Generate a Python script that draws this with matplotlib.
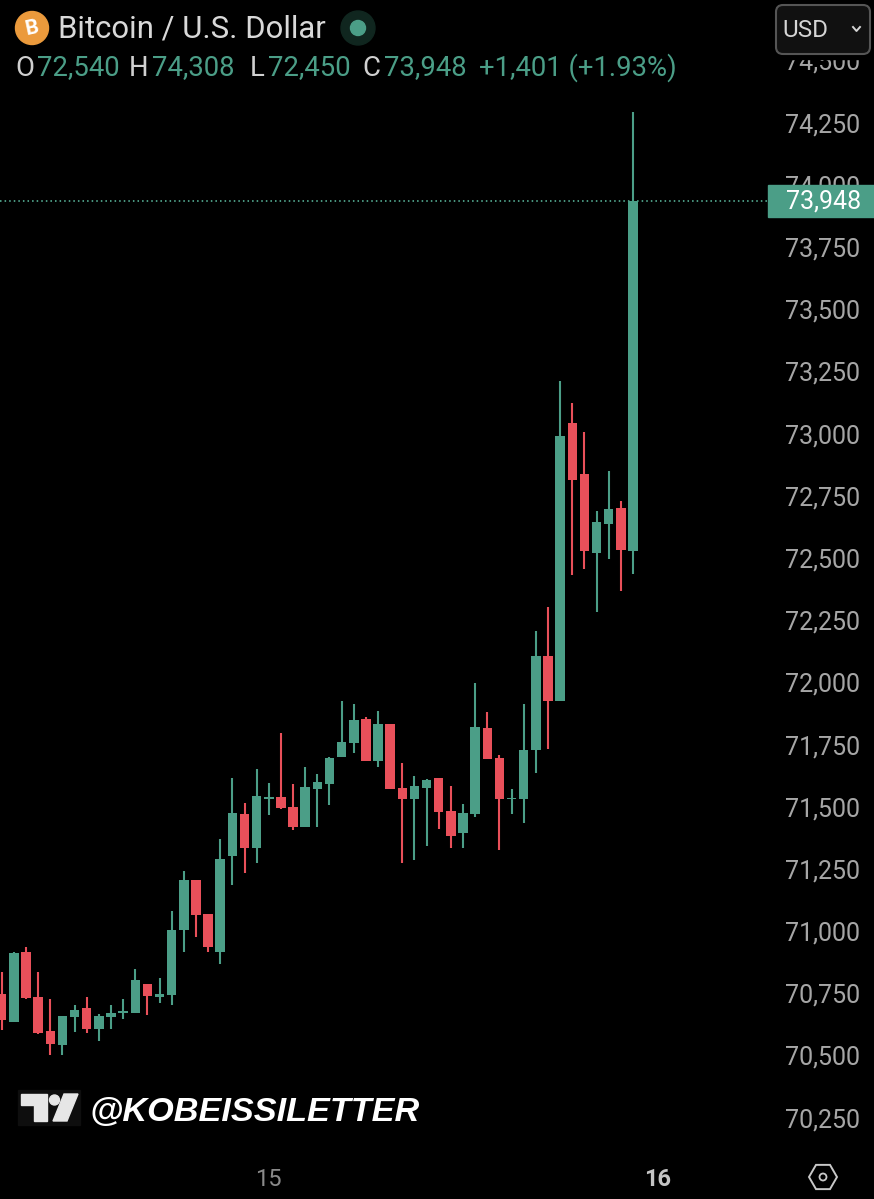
import matplotlib
matplotlib.use("Agg")
import matplotlib.pyplot as plt
from matplotlib.patches import Circle, FancyBboxPatch, Polygon, Rectangle
import numpy as np

# OHLC candles
opens = [70761, 70648, 70929, 70749, 70612, 70556, 70668, 70704, 70620, 70668, 70684, 70684, 70801, 70749,
         70757, 71018, 71219, 71082, 70929, 71315, 71484, 71348, 71545, 71553, 71512, 71432, 71585, 71605,
         71713, 71770, 71866, 71697, 71846, 71589, 71545, 71589, 71629, 71496, 71408, 71484, 71830, 71709,
         71545, 71545, 71742, 72119, 71938, 73056, 72851, 72533, 72650, 72714, 72540]
highs = [70849, 70929, 70950, 70849, 70741, 70672, 70716, 70749, 70680, 70716, 70741, 70861, 70801, 70825,
         71094, 71255, 71219, 71082, 71384, 71629, 71528, 71665, 71609, 71810, 71605, 71673, 71645, 71713,
         71938, 71926, 71874, 71898, 71846, 71689, 71637, 71625, 71629, 71597, 71524, 72011, 71894, 71721,
         71585, 71926, 72220, 72316, 73225, 73136, 73020, 72702, 72863, 72742, 74308]
lows = [70616, 70648, 70741, 70600, 70515, 70515, 70608, 70604, 70572, 70620, 70660, 70684, 70676, 70724,
        70716, 70929, 70990, 70929, 70881, 71199, 71247, 71287, 71480, 71504, 71420, 71432, 71432, 71520,
        71713, 71729, 71697, 71673, 71585, 71287, 71299, 71356, 71424, 71348, 71348, 71472, 71705, 71340,
        71484, 71448, 71649, 71746, 71938, 72445, 72469, 72296, 72509, 72381, 72450]
closes = [70656, 70925, 70745, 70604, 70560, 70672, 70696, 70620, 70672, 70684, 70692, 70817, 70753, 70761,
          71018, 71219, 71078, 70950, 71303, 71488, 71348, 71557, 71553, 71508, 71432, 71593, 71613, 71709,
          71774, 71862, 71697, 71846, 71585, 71545, 71597, 71621, 71492, 71396, 71488, 71834, 71705, 71545,
          71549, 71742, 72119, 71938, 73004, 72827, 72541, 72658, 72710, 72545, 73948]

price_ticks = [74500, 74250, 74000, 73750, 73500, 73250, 73000, 72750, 72500, 72250, 72000, 71750, 71500,
               71250, 71000, 70750, 70500, 70250]
date_pos = [22, 54]
date_labels = ["15", "16"]
ohlc_letters = ["O", "H", "L", "C"]
ohlc_values = ["72,540", "74,308", "72,450", "73,948"]
last_price = 73948

GREEN = "#4b9e87"
RED = "#e9505a"
FONT = "Roboto"

fig = plt.figure(figsize=(8.74, 11.99), dpi=100, facecolor="black")
ax = fig.add_axes([0, 0, 1, 1], facecolor="black")
ax.set_xlim(-0.14, 71.85)
ax.set_ylim(69936.5, 74756.5)
ax.axis("off")

x = np.arange(len(opens))
o, h, l, c = map(np.array, (opens, highs, lows, closes))
colors = [GREEN if c[i] >= o[i] else RED for i in x]

ax.vlines(x, l, h, colors=colors, linewidth=1.5, zorder=2)
ax.bar(x, np.abs(c - o), bottom=np.minimum(o, c), width=0.78, color=colors, linewidth=0, zorder=3)

# last price line
ax.axhline(last_price, xmax=768 / 874, color="#5fc0a4", linewidth=1.1, linestyle=(0, (1, 2)), zorder=1)

# price scale, labels sit a bit above the real level
for p in price_ticks:
    ax.annotate(f"{p:,}", (823 / 874, p), xycoords=ax.get_yaxis_transform(), xytext=(0, 0.6),
                textcoords="offset points", ha="center", va="center", fontsize=18, color="#a6a6a6",
                family=FONT, zorder=1)

# date labels
for pos, lab in zip(date_pos, date_labels):
    bold = lab == "16"
    ax.text(pos, 1 - 1179 / 1199, lab, transform=ax.get_xaxis_transform(), ha="center", va="center",
            fontsize=17, family=FONT, color="#c4c4c4" if bold else "#8a8a8a",
            fontweight="bold" if bold else "normal")

# overlay in pixel coordinates for the header and watermark
ov = fig.add_axes([0, 0, 1, 1], facecolor="none")
ov.set_xlim(0, 874)
ov.set_ylim(1199, 0)
ov.axis("off")

ov.add_patch(Rectangle((0, 0), 874, 59, color="black", zorder=1))
ov.add_patch(Rectangle((768, 185), 106, 32, color=GREEN, zorder=1))
ov.text(824, 202, f"{last_price:,}", color="white", fontsize=18, family=FONT, ha="center", va="center", zorder=2)

# coin icon and title
ov.add_patch(Circle((32, 28), 16.5, color="#eb9a3c", zorder=2))
ov.text(32, 28, "B", color="white", fontsize=15, fontweight="bold", family=FONT, ha="center", va="center",
        rotation=12, zorder=3)
ov.text(58, 29, "Bitcoin / U.S. Dollar", color="#d9d9d9", fontsize=22.4, family=FONT,
        ha="left", va="center", zorder=2)
ov.add_patch(Circle((358, 28), 17, color="#10261f", zorder=2))
ov.add_patch(Circle((358, 28), 7.5, color=GREEN, zorder=3))

# OHLC row
letter_x = [15, 129, 250, 362]
value_x = [37, 152, 268, 384]
for lx, vx, let, val in zip(letter_x, value_x, ohlc_letters, ohlc_values):
    ov.text(lx, 68, let, color="#d0d0d0", fontsize=19.8, family=FONT, ha="left", va="center", zorder=2)
    ov.text(vx, 68, val, color=GREEN, fontsize=19.8, family=FONT, ha="left", va="center", zorder=2)
ov.text(479, 68, "+1,401 (+1.93%)", color=GREEN, fontsize=19.8, family=FONT, ha="left", va="center", zorder=2)

# currency button
ov.add_patch(FancyBboxPatch((779, 8), 88, 43, boxstyle="round,pad=3,rounding_size=7", facecolor="#111111",
                            edgecolor="#555555", linewidth=1.5, zorder=2))
ov.text(782, 30.5, "USD", color="#d5d5d5", fontsize=17.5, family=FONT, ha="left", va="center", zorder=3)
ov.plot([853, 856.5, 860], [27, 31, 27], color="#d5d5d5", linewidth=1.4, zorder=3)

# watermark
ov.add_patch(Rectangle((18, 1090), 62, 35, color="#0e0e0e", zorder=2))
ov.add_patch(Polygon([(21, 1094), (47, 1094), (47, 1121), (34, 1121), (34, 1105), (21, 1105)], color="#e6e6e6", zorder=3))
ov.add_patch(Circle((54.5, 1100), 5, color="#e6e6e6", zorder=3))
ov.add_patch(Polygon([(64, 1094), (78, 1094), (67, 1121), (53, 1121)], color="#e6e6e6", zorder=3))
ov.text(89, 1112, "@KOBEISSILETTER", color="white", fontsize=24.7, family="Liberation Sans", fontweight="bold",
        style="italic", ha="left", va="center", zorder=3)

# settings hexagon
ang = np.deg2rad(np.arange(0, 360, 60))
ov.add_patch(Polygon(np.c_[823 + 14 * np.cos(ang), 1177 + 14 * np.sin(ang)], closed=True, fill=False,
                     edgecolor="#c8c8c8", linewidth=1.4, zorder=3))
ov.add_patch(Circle((823, 1177), 3.5, fill=False, edgecolor="#c8c8c8", linewidth=1.3, zorder=3))

fig.savefig("out.png", dpi=100, facecolor="black")
